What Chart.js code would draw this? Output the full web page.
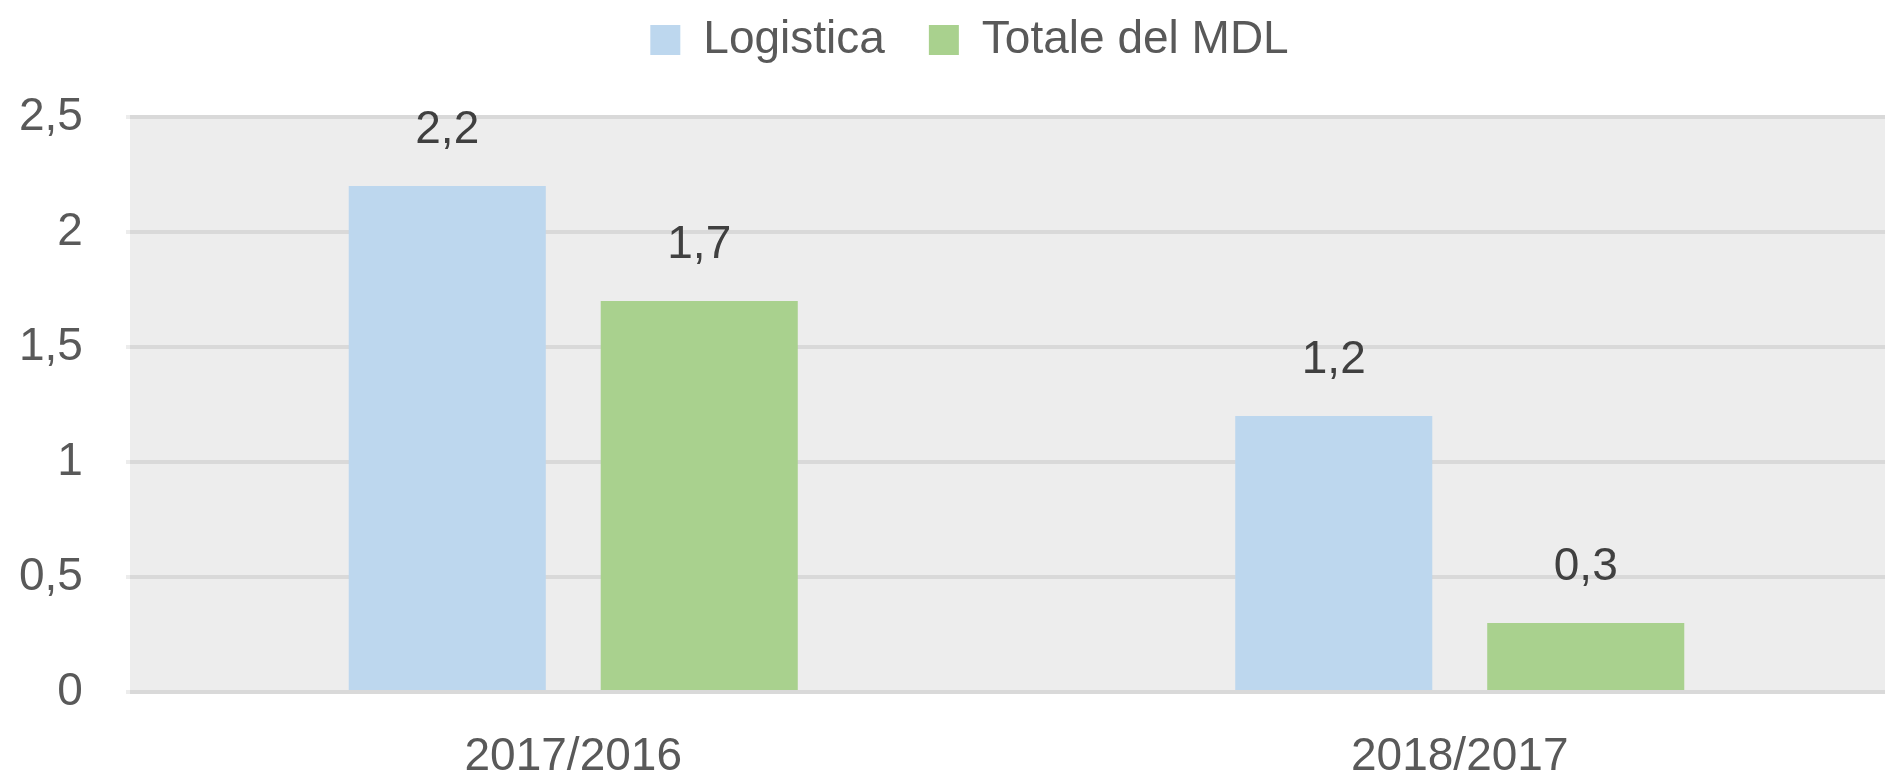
<!DOCTYPE html>
<html><head><meta charset="utf-8">
<script src="https://cdn.jsdelivr.net/npm/chart.js@4.4.1/dist/chart.umd.min.js"></script>
<style>
html,body{margin:0;padding:0;background:#fff;overflow:hidden;width:1885px;height:779px;}
#wrap{position:absolute;left:0;top:-27px;width:1903px;height:806px;}
</style></head><body>
<div id="wrap"><canvas id="c" width="1903" height="806"></canvas></div>
<script>
const categories = ['2017/2016', '2018/2017'];
const seriesNames = ['Logistica', 'Totale del MDL'];
const logistica = [2.2, 1.2];
const totaleMDL = [1.7, 0.3];
const yMin = 0, yMax = 2.5, yStep = 0.5;

const FONT = 'Liberation Sans';
const fmt = v => String(v).replace('.', ',');

const plotBg = {
  id: 'plotBg',
  beforeDraw(chart) {
    const {ctx, chartArea: a} = chart;
    ctx.save();
    ctx.fillStyle = '#ededed';
    ctx.fillRect(a.left, a.top, a.right - a.left, a.bottom - a.top);
    ctx.restore();
  }
};
const valueLabels = {
  id: 'valueLabels',
  afterDatasetsDraw(chart) {
    const ctx = chart.ctx;
    ctx.save();
    ctx.font = '46px "' + FONT + '"';
    ctx.fillStyle = '#404040';
    ctx.textAlign = 'center';
    ctx.textBaseline = 'alphabetic';
    chart.data.datasets.forEach((ds, i) => {
      chart.getDatasetMeta(i).data.forEach((bar, j) => {
        ctx.fillText(fmt(ds.data[j]), bar.x, bar.y - 43);
      });
    });
    ctx.restore();
  }
};

new Chart(document.getElementById('c'), {
  type: 'bar',
  data: {
    labels: categories,
    datasets: [
      {label: seriesNames[0], data: logistica, backgroundColor: '#bdd7ee', categoryPercentage: 0.5685, barPercentage: 0.782},
      {label: seriesNames[1], data: totaleMDL, backgroundColor: '#a9d18e', categoryPercentage: 0.5685, barPercentage: 0.782}
    ]
  },
  options: {
    responsive: false,
    animation: false,
    devicePixelRatio: 1,
    layout: {padding: {left: 36, right: 0, top: 0, bottom: 0}},
    plugins: {
      legend: {
        position: 'top',
        labels: {
          font: {family: FONT, size: 46},
          color: '#595959',
          boxWidth: 30,
          boxHeight: 30,
          padding: 44
        }
      },
      title: {
        display: true, text: ' ', position: 'top', weight: 500,
        font: {size: 10, lineHeight: 1.2},
        padding: {top: 16, bottom: 16}
      },
      tooltip: {enabled: false}
    },
    scales: {
      x: {
        grid: {display: false},
        border: {display: false},
        ticks: {font: {family: FONT, size: 46}, color: '#595959', padding: 30},
        afterFit(s) { s.height = 87; }
      },
      y: {
        min: yMin, max: yMax,
        grid: {color: '#d9d9d9', lineWidth: 4, tickLength: 4, tickColor: '#ececec'},
        border: {display: false},
        ticks: {stepSize: yStep, font: {family: FONT, size: 46}, color: '#595959',
          mirror: true, crossAlign: 'far', padding: -111,
          callback: v => fmt(v)},
        afterFit(s) { s.width = 94; }
      }
    }
  },
  plugins: [plotBg, valueLabels]
});
</script>
</body></html>
